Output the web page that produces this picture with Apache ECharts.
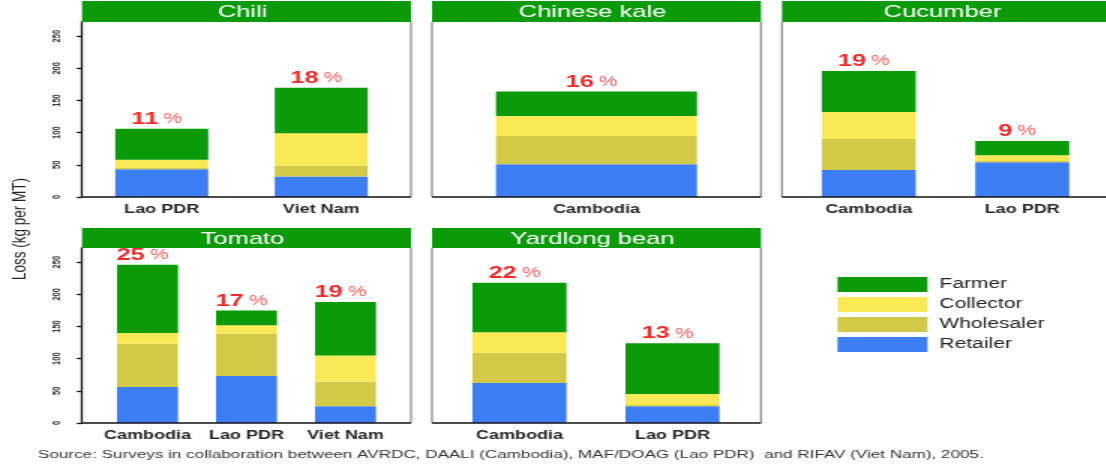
<!DOCTYPE html>
<html>
<head>
<meta charset="utf-8">
<title>Postharvest loss by stage</title>
<script src="https://cdn.jsdelivr.net/npm/echarts@6/dist/echarts.min.js"></script>
<style>
  html, body { margin: 0; padding: 0; background: #fff; overflow: hidden; }
  #chart { height: 472px; transform-origin: 0 0; }
</style>
</head>
<body>
<div id="chart"></div>
<script>
// loss along the chain, kg per MT
const stages = ['Retailer', 'Wholesaler', 'Collector', 'Farmer'];
const legendOrder = ['Farmer', 'Collector', 'Wholesaler', 'Retailer'];
const yTicks = [0, 50, 100, 150, 200, 250];

const chiliCountries = ['Lao PDR', 'Viet Nam'];
const chiliRetailer = [43, 32];
const chiliWholesaler = [2, 17];
const chiliCollector = [13, 50];
const chiliFarmer = [48, 71];
const chiliShare = ['11', '18'];

const kaleCountries = ['Cambodia'];
const kaleRetailer = [51];
const kaleWholesaler = [44];
const kaleCollector = [31];
const kaleFarmer = [38];
const kaleShare = ['16'];

const cucumberCountries = ['Cambodia', 'Lao PDR'];
const cucumberRetailer = [42, 54];
const cucumberWholesaler = [48, 2];
const cucumberCollector = [42, 9];
const cucumberFarmer = [64, 22];
const cucumberShare = ['19', '9'];

const tomatoCountries = ['Cambodia', 'Lao PDR', 'Viet Nam'];
const tomatoRetailer = [56, 73, 26];
const tomatoWholesaler = [67, 66, 38];
const tomatoCollector = [17, 13, 41];
const tomatoFarmer = [106, 23, 83];
const tomatoShare = ['25', '17', '19'];

const beanCountries = ['Cambodia', 'Lao PDR'];
const beanRetailer = [62, 26];
const beanWholesaler = [47, 2];
const beanCollector = [32, 17];
const beanFarmer = [77, 79];
const beanShare = ['22', '13'];

// the source picture is stretched sideways, so the page is drawn narrow and widened
const S = 1.5;
const W = 1106 / S;
const sx = (x) => x / S;

const colors = {
  Farmer: '#0a9a0a',
  Collector: '#f9e957',
  Wholesaler: '#d3c949',
  Retailer: '#3e7ef5'
};
const headGreen = '#0a9a0a';
const font = '"Liberation Sans", Arial, sans-serif';

const rows = [
  { head: 1, top: 22, height: 175 },
  { head: 228, top: 248, height: 175 }
];

// frame = panel box, plot = band area of the bars (reference pixels)
const panels = [
  { title: 'Chili', key: 'chili', countries: chiliCountries, share: chiliShare,
    loss: [chiliRetailer, chiliWholesaler, chiliCollector, chiliFarmer],
    row: 0, frame: [82, 411], plot: [82, 401], bar: 93, axis: true },
  { title: 'Chinese kale', key: 'kale', countries: kaleCountries, share: kaleShare,
    loss: [kaleRetailer, kaleWholesaler, kaleCollector, kaleFarmer],
    row: 0, frame: [432, 761], plot: [432, 761], bar: 201, axis: false },
  { title: 'Cucumber', key: 'cucumber', countries: cucumberCountries, share: cucumberShare,
    loss: [cucumberRetailer, cucumberWholesaler, cucumberCollector, cucumberFarmer],
    row: 0, frame: [782, 1111], plot: [792, 1099], bar: 94, axis: false },
  { title: 'Tomato', key: 'tomato', countries: tomatoCountries, share: tomatoShare,
    loss: [tomatoRetailer, tomatoWholesaler, tomatoCollector, tomatoFarmer],
    row: 1, frame: [82, 411], plot: [98, 395], bar: 61, axis: true },
  { title: 'Yardlong bean', key: 'bean', countries: beanCountries, share: beanShare,
    loss: [beanRetailer, beanWholesaler, beanCollector, beanFarmer],
    row: 1, frame: [432, 761], plot: [443, 749], bar: 94, axis: false }
];

const grid = [], xAxis = [], yAxis = [], series = [], graphic = [];

panels.forEach((p, i) => {
  const r = rows[p.row];
  grid.push({
    left: sx(p.plot[0]),
    width: sx(p.plot[1] - p.plot[0]),
    top: r.top,
    height: r.height
  });
  xAxis.push({
    type: 'category',
    gridIndex: i,
    data: p.countries,
    axisLine: { show: false },
    axisTick: { show: false },
    axisLabel: { interval: 0, hideOverlap: false, fontSize: 12, fontWeight: 'bold', color: '#262626', margin: 7 }
  });
  yAxis.push({
    type: 'value',
    gridIndex: i,
    min: 0,
    max: 272,
    offset: sx(p.plot[0] - p.frame[0]),
    splitLine: { show: false },
    axisLine: { show: p.axis, lineStyle: { color: '#111', width: 1.3 } },
    axisTick: { show: p.axis, customValues: yTicks, length: 3.5, lineStyle: { color: '#111', width: 1.3 } },
    axisLabel: { show: p.axis, customValues: yTicks, rotate: 90, fontSize: 7.5, fontWeight: 'bold', color: '#333', margin: 13 }
  });
  stages.forEach((st, k) => {
    const s = {
      name: st,
      type: 'bar',
      xAxisIndex: i,
      yAxisIndex: i,
      stack: p.key,
      data: p.loss[k],
      barWidth: sx(p.bar),
      itemStyle: { color: colors[st] }
    };
    if (st === 'Farmer') {
      // share of harvest lost, sits a little left of the bar centre as in the original
      s.label = {
        show: true,
        position: 'top',
        distance: 1,
        offset: [-sx(5), 0],
        formatter: (d) => '{n|' + p.share[d.dataIndex] + '} {q|%}',
        rich: {
          n: { fontSize: 17, fontWeight: 'bold', color: '#f02a2a', fontFamily: font },
          q: { fontSize: 14, color: '#f46060', fontFamily: font }
        }
      };
    }
    series.push(s);
  });

  // header strip and the panel frame
  const fl = sx(p.frame[0]), fr = sx(p.frame[1]);
  const base = r.top + r.height;
  graphic.push({
    type: 'rect', z: 10,
    shape: { x: fl, y: r.head, width: fr - fl, height: r.top - r.head },
    style: { fill: headGreen }
  });
  graphic.push({
    type: 'text', z: 11,
    x: (fl + fr) / 2 - sx(4), y: (r.head + r.top) / 2 + 1,
    style: { text: p.title, fill: '#fff', font: '17px ' + font, align: 'center', verticalAlign: 'middle' }
  });
  if (!p.axis) {
    graphic.push({
      type: 'line', z: 5,
      shape: { x1: fl, y1: r.top, x2: fl, y2: base },
      style: { stroke: '#8e8e8e', lineWidth: 1.3 }
    });
  }
  graphic.push({
    type: 'line', z: 5,
    shape: { x1: fr, y1: r.top, x2: fr, y2: base },
    style: { stroke: '#8e8e8e', lineWidth: 1.3 }
  });
  graphic.push({
    type: 'line', z: 5,
    shape: { x1: fl, y1: base, x2: fr, y2: base },
    style: { stroke: '#111', lineWidth: 1.6 }
  });
});

graphic.push({
  type: 'text',
  x: sx(20), y: 229, rotation: Math.PI / 2,
  style: { text: 'Loss (kg per MT)', fill: '#222', font: '13.5px ' + font, align: 'center', verticalAlign: 'middle' }
});
graphic.push({
  type: 'text',
  x: sx(38), y: 455,
  style: {
    text: 'Source: Surveys in collaboration between AVRDC, DAALI (Cambodia), MAF/DOAG (Lao PDR)  and RIFAV (Viet Nam), 2005.',
    fill: '#333', font: '11.4px ' + font, align: 'left', verticalAlign: 'middle'
  }
});

const el = document.getElementById('chart');
el.style.width = W + 'px';
el.style.transform = 'scaleX(' + S + ')';

const chart = echarts.init(el, null, { renderer: 'canvas' });
chart.setOption({
  animation: false,
  textStyle: { fontFamily: font },
  legend: {
    data: legendOrder,
    orient: 'vertical',
    left: sx(830),
    top: 272,
    itemWidth: sx(90),
    itemHeight: 15,
    itemGap: 5,
    icon: 'rect',
    selectedMode: false,
    textStyle: { fontSize: 14, lineHeight: 15, color: '#222', padding: [0, 0, 0, 3] }
  },
  grid: grid,
  xAxis: xAxis,
  yAxis: yAxis,
  series: series,
  graphic: graphic
});
</script>
</body>
</html>
